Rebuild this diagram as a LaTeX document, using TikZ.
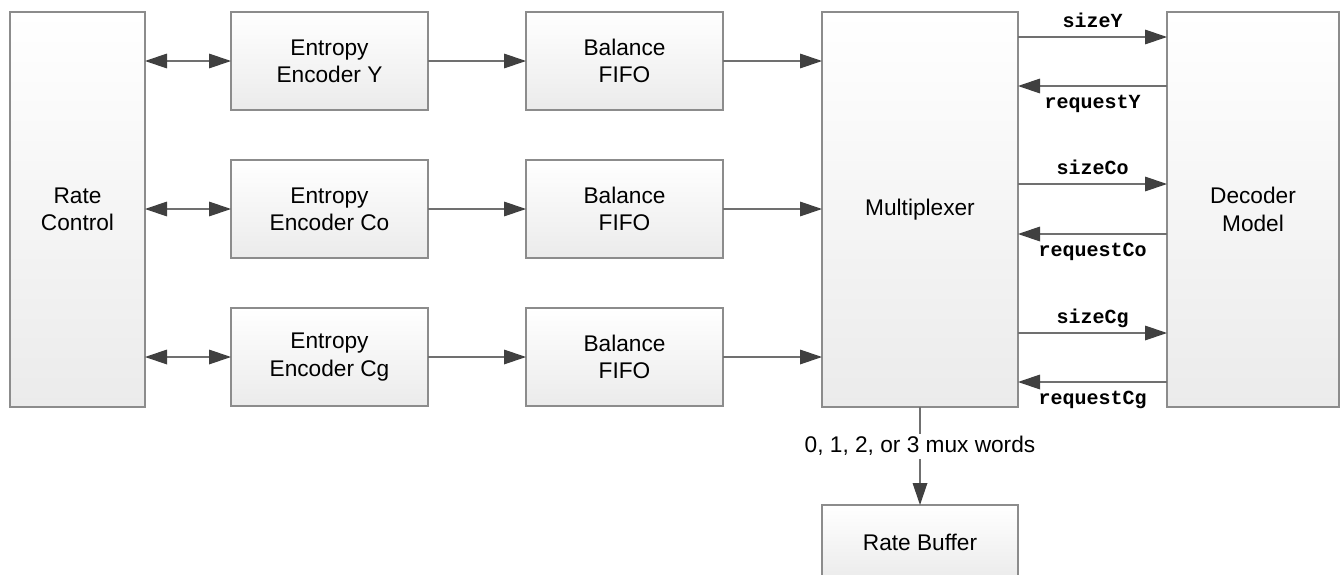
\documentclass[tikz,border=0pt]{standalone}
\usepackage{fontspec}
\setmainfont{Liberation Sans}
\newfontfamily\monob{Liberation Mono}
\usetikzlibrary{arrows.meta,calc}
\definecolor{boxline}{HTML}{8C8C8C}
\definecolor{boxbot}{HTML}{EBEBEB}
\definecolor{wire}{HTML}{707070}
\definecolor{tipc}{HTML}{404040}
\begin{document}
\begin{tikzpicture}[x=0.75pt,y=-0.75pt,
  blk/.style={draw=boxline,line width=1.1pt,top color=white,bottom color=boxbot,
    inner sep=0pt,outer sep=0pt,align=center,font=\fontsize{17}{20.5}\selectfont},
  wirearrow/.style={draw=wire,line width=0.9pt,-{Triangle[length=16.5pt,width=11pt,color=tipc]}},
  biarrow/.style={draw=wire,line width=0.9pt,
    {Triangle[length=16.5pt,width=11pt,color=tipc]}-{Triangle[length=16.5pt,width=11pt,color=tipc]}},
  sig/.style={font=\fontsize{15}{18}\selectfont\monob\bfseries,inner sep=0pt,anchor=base}
]
\useasboundingbox (0,0) rectangle (1340,575);
\clip (0,0) rectangle (1340,575);

% blocks
\node[blk,minimum width=135*0.75pt,minimum height=395*0.75pt] (rc) at (77.5,209.5) {Rate\\Control};
\node[blk,minimum width=197*0.75pt,minimum height=98*0.75pt] (encY) at (329.5,61) {Entropy\\Encoder Y};
\node[blk,minimum width=197*0.75pt,minimum height=98*0.75pt] (encCo) at (329.5,209) {Entropy\\Encoder Co};
\node[blk,minimum width=197*0.75pt,minimum height=98*0.75pt] (encCg) at (329.5,357) {Entropy\\Encoder Cg};
\node[blk,minimum width=197*0.75pt,minimum height=98*0.75pt] (fifoY) at (624.5,61) {Balance\\FIFO};
\node[blk,minimum width=197*0.75pt,minimum height=98*0.75pt] (fifoCo) at (624.5,209) {Balance\\FIFO};
\node[blk,minimum width=197*0.75pt,minimum height=98*0.75pt] (fifoCg) at (624.5,357) {Balance\\FIFO};
\node[blk,minimum width=196*0.75pt,minimum height=395*0.75pt] (mux) at (920,209.5) {Multiplexer};
\node[blk,minimum width=172*0.75pt,minimum height=395*0.75pt] (dec) at (1253,209.5) {Decoder\\Model};
\node[blk,minimum width=196*0.75pt,minimum height=75*0.75pt] (rb) at (920,542.5) {Rate Buffer};

% rate control <-> encoders
\draw[biarrow] (rc.east |- encY.west) -- (encY.west);
\draw[biarrow] (rc.east |- encCo.west) -- (encCo.west);
\draw[biarrow] (rc.east |- encCg.west) -- (encCg.west);

% encoders -> fifos
\draw[wirearrow] (encY.east) -- (fifoY.west);
\draw[wirearrow] (encCo.east) -- (fifoCo.west);
\draw[wirearrow] (encCg.east) -- (fifoCg.west);

% fifos -> mux
\draw[wirearrow] (fifoY.east) -- (fifoY.east -| mux.west);
\draw[wirearrow] (fifoCo.east) -- (fifoCo.east -| mux.west);
\draw[wirearrow] (fifoCg.east) -- (fifoCg.east -| mux.west);

% mux <-> decoder model
\draw[wirearrow] (mux.east |- 0,37) -- (dec.west |- 0,37) node[midway,sig,yshift=7.5pt] {sizeY};
\draw[wirearrow] (dec.west |- 0,86) -- (mux.east |- 0,86) node[midway,sig,yshift=-16.5pt] {requestY};
\draw[wirearrow] (mux.east |- 0,184) -- (dec.west |- 0,184) node[midway,sig,yshift=7.5pt] {sizeCo};
\draw[wirearrow] (dec.west |- 0,234) -- (mux.east |- 0,234) node[midway,sig,yshift=-16.5pt] {requestCo};
\draw[wirearrow] (mux.east |- 0,333) -- (dec.west |- 0,333) node[midway,sig,yshift=7.5pt] {sizeCg};
\draw[wirearrow] (dec.west |- 0,382) -- (mux.east |- 0,382) node[midway,sig,yshift=-16.5pt] {requestCg};

% mux -> rate buffer
\draw[wirearrow] (mux.south) -- node[pos=0.4,fill=white,inner sep=2pt,font=\fontsize{17}{20.5}\selectfont] (muxlab) {0, 1, 2, or 3 mux words} (rb.north);
\end{tikzpicture}
\end{document}
